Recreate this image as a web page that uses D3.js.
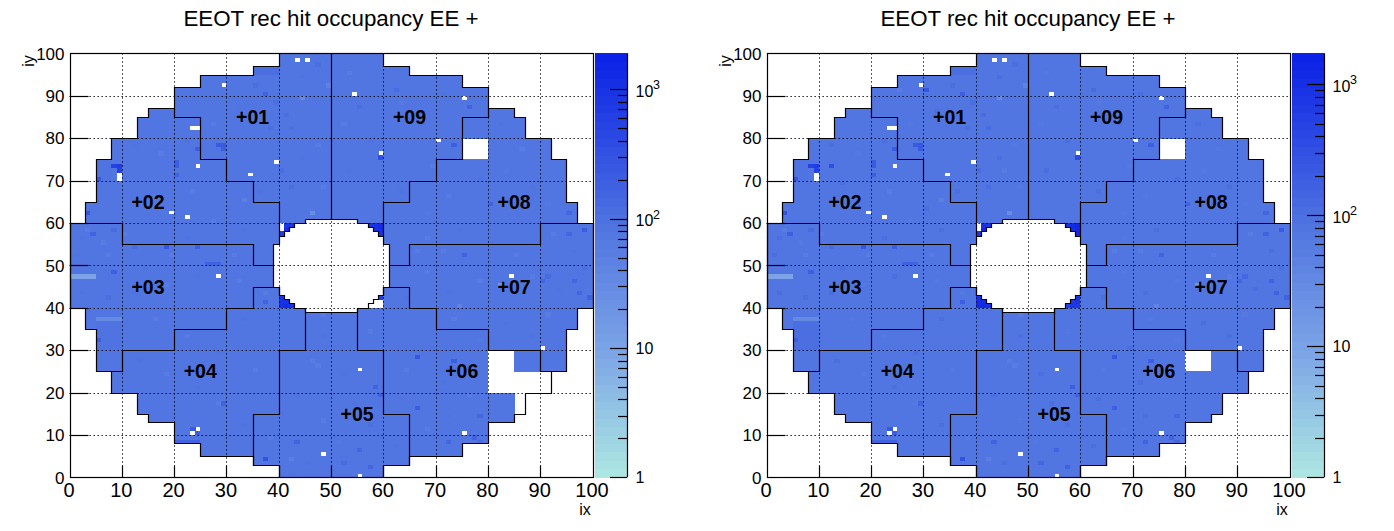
<!DOCTYPE html>
<html><head><meta charset="utf-8">
<script src="https://cdnjs.cloudflare.com/ajax/libs/d3/7.8.5/d3.min.js"></script>
<style>html,body{margin:0;padding:0;background:#fff}svg{display:block}text{font-family:"Liberation Sans",Arial,sans-serif;fill:#000}</style>
</head><body><svg id="c" width="1394" height="531"></svg>
<script>
const titleText = "EEOT rec hit occupancy EE +";
const axisTicks = [0,10,20,30,40,50,60,70,80,90,100];
// detector rows: [iyFrom, iyTo, ixFrom, ixTo]
const outerRows = [[97,100,40,60],[95,97,35,65],[92,95,25,75],[87,92,20,80],[85,87,15,85],[80,85,13,87],[75,80,8,92],[65,75,5,95],[60,65,3,97],[40,60,0,100],[35,40,3,97],[25,35,5,95],[20,25,8,92],[15,20,13,87],[13,15,15,85],[8,13,20,80],[5,8,25,75],[3,5,35,65],[0,3,40,60]];
// central hole rows: [iyFrom, iyTo, ixFrom, ixTo]
const holeRows = [[60,61,45,55],[59,60,43,57],[58,59,42,58],[57,58,41,59],[55,57,40,60],[45,55,39,61],[43,45,40,60],[42,43,41,59],[41,42,42,58],[40,41,43,57],[39,40,45,55]];
const outerPath = [[40,100],[40,97],[35,97],[35,95],[25,95],[25,92],[20,92],[20,87],[15,87],[15,85],[13,85],[13,80],[8,80],[8,75],[5,75],[5,65],[3,65],[3,60],[0,60],[0,40],[3,40],[3,35],[5,35],[5,25],[8,25],[8,20],[13,20],[13,15],[15,15],[15,13],[20,13],[20,8],[25,8],[25,5],[35,5],[35,3],[40,3],[40,0],[60,0],[60,3],[65,3],[65,5],[75,5],[75,8],[80,8],[80,13],[85,13],[85,15],[87,15],[87,20],[92,20],[92,25],[95,25],[95,35],[97,35],[97,40],[100,40],[100,60],[97,60],[97,65],[95,65],[95,75],[92,75],[92,80],[87,80],[87,85],[85,85],[85,87],[80,87],[80,92],[75,92],[75,95],[65,95],[65,97],[60,97],[60,100]];
const holePath = [[45,61],[55,61],[55,60],[57,60],[57,59],[58,59],[58,58],[59,58],[59,57],[60,57],[60,55],[61,55],[61,45],[60,45],[60,43],[59,43],[59,42],[58,42],[58,41],[57,41],[57,40],[55,40],[55,39],[45,39],[45,40],[43,40],[43,41],[42,41],[42,42],[41,42],[41,43],[40,43],[40,45],[39,45],[39,55],[40,55],[40,57],[41,57],[41,58],[42,58],[42,59],[43,59],[43,60],[45,60],[45,61]];
const sectorPaths = [
 [[50,100],[50,61]],
 [[20,87],[20,85],[25,85],[25,75],[30,75],[30,70],[35,70],[35,65],[40,65],[40,57]],
 [[0,60],[10,60],[10,55],[35,55],[35,50],[39,50]],
 [[8,25],[10,25],[10,30],[20,30],[20,35],[30,35],[30,40],[35,40],[35,45],[40,45],[40,43]],
 [[45,40],[45,30],[40,30],[40,15],[35,15],[35,3]],
 [[55,40],[55,30],[60,30],[60,15],[65,15],[65,3]],
 [[60,43],[60,45],[65,45],[65,40],[70,40],[70,35],[80,35],[80,30],[90,30],[90,25],[95,25]],
 [[100,60],[90,60],[90,55],[65,55],[65,50],[61,50]],
 [[80,87],[80,85],[75,85],[75,75],[70,75],[70,70],[65,70],[65,65],[60,65],[60,57]]
];
const sectorNames = ["+01","+09","+02","+08","+03","+07","+04","+06","+05"];
const sectorX = [35,65,15,85,15,85,25,75,55];
const sectorY = [85,85,65,65,45,45,25,25,15];
const baseValue = 76;
// broad patches: [iyFrom, iyTo, ixFrom, ixTo, value]
const patches = [[30,37,5,10,100],[95,97,35,40,105],[8,9,20,25,170],[70,75,5,8,92]];
// single cells, both panels: [ix, iy, value]
const commonCells = [[44,89,32],[49,92,42],[46,62,28],[37,90,180],[24,77,200],[28,78,220],[29,78,240],[29,77,200],[20,73,210],[20,74,210],[20,71,180],[3,62,280],[76,87,160],[73,78,190],[80,64,160],[75,52,160],[95,57,150],[98,58,210],[95,62,140],[5,32,190],[8,48,190],[37,41,180],[29,17,160],[43,8,160],[37,4,290],[42,4,48],[66,28,250],[73,27,185],[66,16,185],[82,45,18],[74,40,44],[18,54,250],[24,54,185],[26,50,170],[27,50,170],[28,50,170],[4,57,175],[23,11,240],[24,10,195],[59,75,380],[5,70,260],[33,65,50],[62,91,125],[58,21,175],[59,19,160],[48,38,60],[55,6,150],[52,3,135],[57,2,150],[46,27,58],[47,26,58],[68,62,65],[90,46,140],[91,47,135],[96,46,150],[97,43,150],[99,42,170],[96,70,115],[78,14,140],[77,9,160],[72,8,150],[78,8,135],[12,54,125],[8,58,125],
[2,56,100],[6,55,62],[1,52,96],[3,58,58],[7,52,60],[10,57,60],[14,49,96],[19,52,56],[22,56,100],[31,52,56],[33,58,100],[27,60,62],[16,66,64],[23,67,60],[30,63,98],[36,67,100],[12,78,98],[17,76,62],[22,79,98],[14,69,100],[27,83,62],[32,86,100],[38,82,104],[41,85,112],[42,82,110],[39,88,106],[47,78,62],[44,75,98],[52,83,62],[55,87,102],[57,79,98],[48,68,62],[53,72,100],[42,68,104],[40,72,112],[35,92,102],[44,94,98],[53,95,62],[47,97,102],[63,88,64],[67,83,100],[71,90,98],[69,73,62],[63,67,100],[72,66,62],[78,70,98],[83,72,64],[88,68,100],[86,77,62],[82,83,98],[91,64,64],[66,53,56],[71,53,56],[74,58,100],[68,56,62],[88,47,56],[92,57,60],[85,52,58],[96,53,100],[98,49,104],[93,44,98],[78,46,62],[72,43,98],[68,48,62],[64,42,98],[73,37,62],[83,36,100],[88,33,98],[91,38,62],[78,32,64],[69,30,100],[64,25,62],[71,22,98],[76,19,62],[63,18,98],[68,11,62],[72,14,100],[62,7,98],[57,12,102],[54,17,100],[48,13,62],[43,19,98],[52,24,98],[57,34,62],[48,33,98],[51,8,64],[45,3,98],[38,9,62],[33,12,98],[28,17,62],[24,21,98],[18,24,62],[13,27,98],[22,33,62],[28,29,100],[35,25,62],[33,37,98],[37,43,62],[16,37,62],[12,43,98],[7,42,102],[2,43,98],[18,45,62],[24,47,98],[32,46,62]];
// missing (white) cells, both panels
const commonBlank = [[43,98],[45,98],[29,92],[23,82],[24,82],[24,73],[39,74],[34,71],[9,71],[9,70],[19,62],[22,61],[54,90],[75,89],[70,79],[59,76],[28,47],[84,47],[90,30],[55,25],[55,0],[75,10],[48,5],[24,11],[23,10],[40,59],[40,58]];
// regions blank in both panels: [ixFrom, ixTo, iyFrom, iyTo]
const blankBlocks = [[75,80,75,80]];
// light strips: [iy, ixFrom, ixTo, value]
const stripsA = [[47,0,5,10],[37,5,10,34]];
const stripsB = [[47,0,5,9],[37,5,10,30]];
const cornerDark = [[41,59,900],[42,59,850],[40,57,700],[41,58,1200],[57,59,1000],[58,59,1100],[59,59,1200],[58,58,1100],[59,58,1300],[59,57,1100],[40,42,1000],[40,41,1100],[40,40,1100],[41,41,1100],[41,40,1200],[42,40,1000]];
// panel-specific values
const leftExtraDark = [[8,73,550],[9,73,650],[9,72,550],[59,42,700]];
const rightExtraDark = [[8,73,550],[9,73,650],[9,72,550],[12,73,340],[30,91,260],[25,91,52],[45,72,52],[57,40,500],[58,40,800],[59,40,750],[58,41,700],[59,41,800],[59,42,800]];
const leftBlank = [[80,85,20,30],[85,92,20,25],[85,87,15,20],[57,60,40,42]];
const rightBlank = [[80,85,25,30]];
const leftMax = 1900, rightMax = 1725;
const paletteStops = [0,0.305,0.61,1];
const paletteColors = ["#aee8e2","#7ba3e6","#4d71e0","#0a20e6"];
const panels = [
 {left:69, right:592, palL:595, palR:627, zmax:leftMax, dark:leftExtraDark, blank:leftBlank, strips:stripsA, titleX:331},
 {left:766, right:1289, palL:1292, palR:1324, zmax:rightMax, dark:rightExtraDark, blank:rightBlank, strips:stripsB, titleX:1028}
];
const plotTop=53.3, plotBottom=477.3;
const svg=d3.select("#c");
function inRows(rows,ix,iy){return rows.some(r=>iy>=r[0]&&iy<r[1]&&ix>=r[2]&&ix<r[3]);}
panels.forEach(p=>{
  const g=svg.append("g");
  const x=d3.scaleLinear([0,100],[p.left+.5,p.right+.5]);
  const y=d3.scaleLinear([0,100],[plotBottom,plotTop]);
  const sx=v=>Math.round(x(v))+.5, sy=v=>Math.round(y(v))+.5;
  const logF=d3.scaleLog([1,p.zmax],[0,1]);
  const ramp=d3.scaleLinear(paletteStops,paletteColors).clamp(true);
  const color=v=>ramp(Math.round(logF(v)*50)/50);
  const vals=new Map();
  const key=(a,b)=>a*1000+b;
  for(let ix=0;ix<100;ix++)for(let iy=0;iy<100;iy++){
    if(inRows(outerRows,ix,iy)&&!inRows(holeRows,ix,iy)) vals.set(key(ix,iy),baseValue);
  }
  patches.forEach(d=>{for(let iy=d[0];iy<d[1];iy++)for(let ix=d[2];ix<d[3];ix++)if(vals.has(key(ix,iy)))vals.set(key(ix,iy),d[4]);});
  commonCells.forEach(d=>{if(vals.has(key(d[0],d[1])))vals.set(key(d[0],d[1]),d[2]);});
  p.strips.forEach(d=>{for(let ix=d[1];ix<d[2];ix++)vals.set(key(ix,d[0]),d[3]);});
  cornerDark.forEach(d=>vals.set(key(d[0],d[1]),d[2]));
  p.dark.forEach(d=>vals.set(key(d[0],d[1]),d[2]));
  commonBlank.forEach(d=>vals.delete(key(d[0],d[1])));
  blankBlocks.concat(p.blank).forEach(d=>{for(let iy=d[2];iy<d[3];iy++)for(let ix=d[0];ix<d[1];ix++)vals.delete(key(ix,iy));});
  const cells=Array.from(vals,([k,v])=>({ix:Math.floor(k/1000),iy:k%1000,v}));
  g.append("g").attr("shape-rendering","crispEdges").selectAll("rect").data(cells).join("rect")
    .attr("x",d=>x(d.ix)).attr("y",d=>y(d.iy+1)).attr("width",d=>x(d.ix+1)-x(d.ix)+.5).attr("height",d=>y(d.iy)-y(d.iy+1)+.5).attr("fill",d=>color(d.v));
  const grid=g.append("g").attr("stroke","#000").attr("stroke-width",1).attr("stroke-dasharray","1.3 2.7");
  axisTicks.slice(1,-1).forEach(t=>{
    grid.append("line").attr("x1",sx(t)).attr("x2",sx(t)).attr("y1",plotTop).attr("y2",plotBottom);
    grid.append("line").attr("x1",x(0)).attr("x2",x(100)).attr("y1",sy(t)).attr("y2",sy(t));
  });
  const line=d3.line().x(d=>sx(d[0])).y(d=>sy(d[1]));
  const ol=g.append("g").attr("fill","none").attr("stroke","#000").attr("stroke-width",1.2);
  [outerPath,holePath].concat(sectorPaths).forEach(d=>ol.append("path").attr("d",line(d)));
  g.append("rect").attr("x",sx(0)).attr("y",sy(100)).attr("width",sx(100)-sx(0)).attr("height",sy(0)-sy(100)).attr("fill","none").attr("stroke","#000").attr("stroke-width",1.2);
  const tk=g.append("g").attr("stroke","#000").attr("stroke-width",1.2);
  axisTicks.slice(1,-1).forEach(t=>{
    tk.append("line").attr("x1",sx(t)).attr("x2",sx(t)).attr("y1",sy(0)).attr("y2",sy(0)-12);
    tk.append("line").attr("x1",sx(0)).attr("x2",sx(0)+18).attr("y1",sy(t)).attr("y2",sy(t));
  });
  axisTicks.forEach(t=>{
    g.append("text").attr("x",x(t)-.5).attr("y",plotBottom+19.7).attr("text-anchor","middle").attr("font-size",20).text(t);
    if(t>0) g.append("text").attr("x",x(0)-5).attr("y",y(t)+6.3).attr("text-anchor","end").attr("font-size",17).text(t);
  });
  g.append("text").attr("x",x(0)-5).attr("y",plotBottom+6.7).attr("text-anchor","end").attr("font-size",17).text("0");
  g.append("text").attr("x",p.right-7).attr("y",515).attr("font-size",16).attr("text-anchor","middle").text("ix");
  g.append("text").attr("transform",`translate(${p.left-35},61) rotate(-90)`).attr("font-size",16).attr("text-anchor","middle").text("iy");
  g.append("text").attr("x",p.titleX).attr("y",26).attr("text-anchor","middle").attr("font-size",22.3).text(titleText);
  sectorNames.forEach((s,i)=>g.append("text").attr("x",x(sectorX[i])).attr("y",y(sectorY[i])+7).attr("text-anchor","middle").attr("font-size",19.5).attr("font-weight","bold").text(s));
  const zy=d3.scaleLog([1,p.zmax],[plotBottom,plotTop]);
  const bands=d3.range(50);
  g.append("g").attr("shape-rendering","crispEdges").selectAll("rect").data(bands).join("rect")
    .attr("x",p.palL).attr("width",p.palR-p.palL).attr("y",i=>plotBottom-(i+1)*(plotBottom-plotTop)/50).attr("height",(plotBottom-plotTop)/50+.6).attr("fill",i=>ramp((i+.5)/50));
  const zt=g.append("g").attr("stroke","#000").attr("stroke-width",1.2);
  zt.append("line").attr("x1",p.palR+.5).attr("x2",p.palR+.5).attr("y1",plotTop).attr("y2",plotBottom);
  [1,2,3,4,5,6,7,8,9,10,20,30,40,50,60,70,80,90,100,200,300,400,500,600,700,800,900,1000].filter(v=>v<=p.zmax).forEach(v=>{
    const maj=[1,10,100,1000].includes(v);
    const yy=Math.round(zy(v))+.5;
    zt.append("line").attr("x1",p.palR-(maj?17:9)).attr("x2",p.palR).attr("y1",yy).attr("y2",yy);
  });
  const lx=p.palR+8.5;
  g.append("text").attr("x",lx).attr("y",zy(1)+6).attr("font-size",16).text("1");
  g.append("text").attr("x",lx).attr("y",zy(10)+6).attr("font-size",16).text("10");
  [[100,"2"],[1000,"3"]].forEach(d=>{
    g.append("text").attr("x",lx).attr("y",zy(d[0])+7.4).attr("font-size",16).text("10");
    g.append("text").attr("x",lx+17.5).attr("y",zy(d[0])).attr("font-size",12.5).text(d[1]);
  });
});
</script></body></html>
